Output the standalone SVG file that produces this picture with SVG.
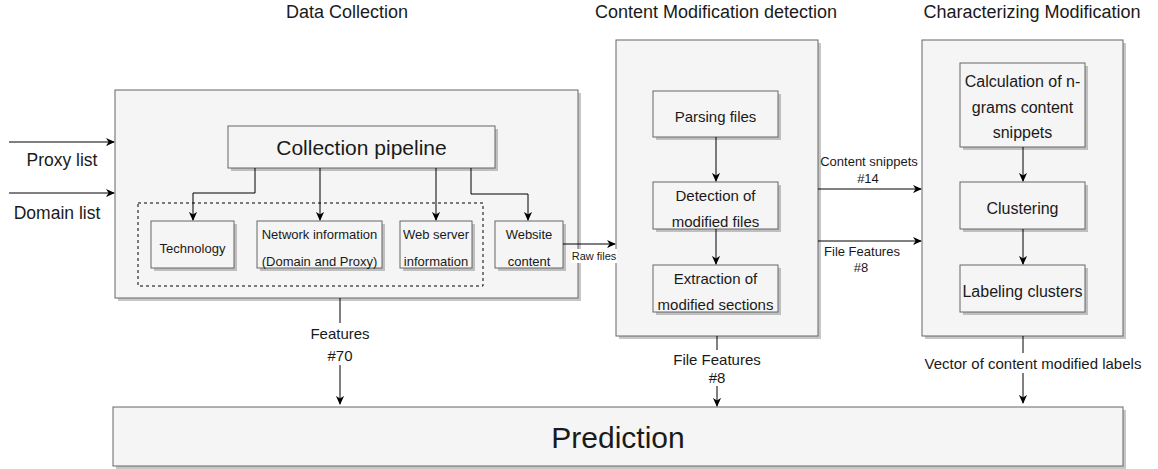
<svg xmlns="http://www.w3.org/2000/svg" width="1158" height="469" viewBox="0 0 1158 469">
<style>
text{font-family:"Liberation Sans",Arial,sans-serif;fill:#1a1a1a;text-anchor:middle;dominant-baseline:central}
.box{fill:#f5f5f5;stroke:#666666;stroke-width:1}
.sh{fill:#000;opacity:0.22}
.ln{stroke:#000;stroke-width:1;fill:none}
.t18{font-size:18px}.t17{font-size:17.5px}.t15{font-size:15px}.t16{font-size:16px}.t13{font-size:13px}.t11{font-size:11px}
</style>
<defs>
<marker id="ar" viewBox="0 0 10 10" refX="9" refY="5" markerWidth="9" markerHeight="9" markerUnits="userSpaceOnUse" orient="auto">
<path d="M0,0.5 L10,5 L0,9.5 L3,5 z" fill="#000"/>
</marker>
</defs>

<g id="titles">
<text class="t18" x="347" y="12">Data Collection</text>
<text class="t18" x="716" y="12">Content Modification detection</text>
<text class="t18" x="1032" y="12">Characterizing Modification</text>
</g>

<g id="data-collection">
<rect class="sh" x="118" y="93" width="463" height="208"/>
<rect class="box" x="115" y="90" width="463" height="208"/>
</g>
<g id="collection-pipeline">
<rect class="sh" x="231" y="129" width="267" height="42"/>
<rect class="box" x="228" y="126" width="267" height="42"/>
<text x="361.5" y="147" style="font-size:21px">Collection pipeline</text>
</g>
<g id="group-dashed">
<rect x="138" y="203" width="345" height="83" fill="none" stroke="#000" stroke-dasharray="3,3"/>
</g>
<g id="technology">
<rect class="sh" x="154" y="224" width="83" height="47"/>
<rect class="box" x="151" y="221" width="83" height="47"/>
<text class="t13" x="192.5" y="248">Technology</text>
</g>
<g id="network-info">
<rect class="sh" x="260" y="224" width="125" height="47"/>
<rect class="box" x="257" y="221" width="125" height="47"/>
<text class="t13" x="319.5" y="234">Network information</text>
<text class="t13" x="319.5" y="261">(Domain and Proxy)</text>
</g>
<g id="web-server">
<rect class="sh" x="403" y="224" width="72" height="47"/>
<rect class="box" x="400" y="221" width="72" height="47"/>
<text class="t13" x="436" y="234">Web server</text>
<text class="t13" x="436" y="261">information</text>
</g>
<g id="website-content">
<rect class="sh" x="498" y="224" width="68" height="47"/>
<rect class="box" x="495" y="221" width="68" height="47"/>
<text class="t13" x="529" y="234">Website</text>
<text class="t13" x="529" y="261">content</text>
</g>

<g id="content-modification">
<rect class="sh" x="619" y="43" width="202" height="296"/>
<rect class="box" x="616" y="40" width="202" height="296"/>
</g>
<g id="parsing-files">
<rect class="sh" x="656" y="94" width="125" height="46"/>
<rect class="box" x="653" y="91" width="125" height="46"/>
<text class="t15" x="715.5" y="116">Parsing files</text>
</g>
<g id="detection">
<rect class="sh" x="656" y="185" width="125" height="47"/>
<rect class="box" x="653" y="182" width="125" height="47"/>
<text class="t15" x="715.5" y="195">Detection of</text>
<text class="t15" x="715.5" y="221">modified files</text>
</g>
<g id="extraction">
<rect class="sh" x="656" y="268" width="125" height="47"/>
<rect class="box" x="653" y="265" width="125" height="47"/>
<text class="t15" x="715.5" y="278">Extraction of</text>
<text class="t15" x="715.5" y="304">modified sections</text>
</g>

<g id="characterizing">
<rect class="sh" x="925" y="43" width="201" height="296"/>
<rect class="box" x="922" y="40" width="201" height="296"/>
</g>
<g id="ngrams">
<rect class="sh" x="963" y="66" width="125" height="84"/>
<rect class="box" x="960" y="63" width="125" height="84"/>
<text class="t16" x="1022.5" y="81">Calculation of n-</text>
<text class="t16" x="1022.5" y="107">grams content</text>
<text class="t16" x="1022.5" y="132">snippets</text>
</g>
<g id="clustering">
<rect class="sh" x="963" y="185" width="125" height="47"/>
<rect class="box" x="960" y="182" width="125" height="47"/>
<text class="t16" x="1022.5" y="208">Clustering</text>
</g>
<g id="labeling">
<rect class="sh" x="963" y="268" width="125" height="47"/>
<rect class="box" x="960" y="265" width="125" height="47"/>
<text class="t16" x="1022.5" y="291">Labeling clusters</text>
</g>

<g id="prediction">
<rect class="sh" x="116" y="410" width="1010" height="59"/>
<rect class="box" x="113" y="407" width="1010" height="59"/>
<text x="618" y="437" style="font-size:30px">Prediction</text>
</g>

<g id="connectors">
<path class="ln" d="M9,142 H114" marker-end="url(#ar)"/>
<path class="ln" d="M9,193 H114" marker-end="url(#ar)"/>
<path class="ln" d="M255,168 V193 H193 V220" marker-end="url(#ar)"/>
<path class="ln" d="M320,168 V220" marker-end="url(#ar)"/>
<path class="ln" d="M436,168 V220" marker-end="url(#ar)"/>
<path class="ln" d="M471,168 V194 H528 V220" marker-end="url(#ar)"/>
<path class="ln" d="M563,244 H615" marker-end="url(#ar)"/>
<path class="ln" d="M716,137 V181" marker-end="url(#ar)"/>
<path class="ln" d="M716,229 V264" marker-end="url(#ar)"/>
<path class="ln" d="M818,189 H921" marker-end="url(#ar)"/>
<path class="ln" d="M818,241 H921" marker-end="url(#ar)"/>
<path class="ln" d="M1023,147 V181" marker-end="url(#ar)"/>
<path class="ln" d="M1023,229 V264" marker-end="url(#ar)"/>
<path class="ln" d="M340,298 V323"/>
<path class="ln" d="M340,365 V404" marker-end="url(#ar)"/>
<path class="ln" d="M717,336 V350"/>
<path class="ln" d="M717,386 V406" marker-end="url(#ar)"/>
<path class="ln" d="M1023,336 V353"/>
<path class="ln" d="M1023,373 V403" marker-end="url(#ar)"/>
</g>

<g id="labels">
<text class="t17" x="62" y="160">Proxy list</text>
<text class="t17" x="57" y="213">Domain list</text>
<rect x="571" y="249" width="46" height="14" fill="#fff"/>
<text class="t11" x="594" y="256">Raw files</text>
<text class="t13" x="869" y="161">Content snippets</text>
<text class="t13" x="868" y="178">#14</text>
<text class="t13" x="862" y="251">File Features</text>
<text class="t13" x="861" y="267">#8</text>
<text class="t15" x="340" y="333">Features</text>
<text class="t15" x="340" y="355">#70</text>
<text class="t15" x="717" y="359">File Features</text>
<text class="t15" x="717" y="377">#8</text>
<text class="t15" x="1033" y="363">Vector of content modified labels</text>
</g>
</svg>
